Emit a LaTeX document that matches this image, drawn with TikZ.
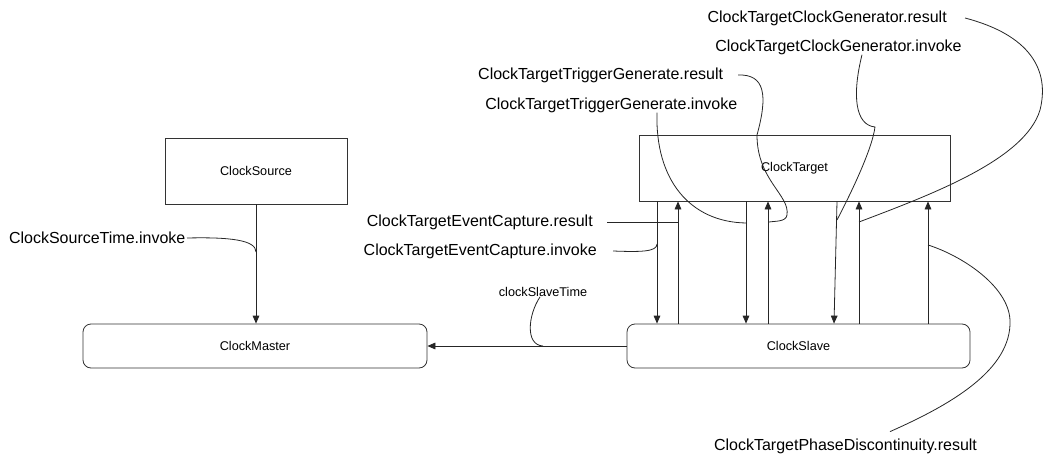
\documentclass[tikz,border=0pt]{standalone}
\usepackage{fontspec}
\setmainfont{Liberation Sans}
\usetikzlibrary{arrows.meta}
\tikzset{
  block/.style={draw=black!80, line width=0.6pt, font=\fontsize{9.5}{11}\selectfont},
  rblock/.style={block, rounded corners=6pt},
  lbl/.style={inner sep=0pt, font=\fontsize{12}{14}\selectfont},
  wire/.style={draw=black!85, line width=0.6pt},
}
\begin{document}
\begin{tikzpicture}[x=0.75pt,y=-0.75pt,>={Triangle[length=6pt,width=5pt]}]
\useasboundingbox (0,0) rectangle (1045,453);
% blocks
\node[block, minimum width=136.5pt, minimum height=49.5pt] (src) at (256,171) {ClockSource};
\node[rblock, minimum width=258pt, minimum height=33pt] (mst) at (255,346) {ClockMaster};
\node[block, minimum width=233.25pt, minimum height=49.5pt] (tgt) at (794.5,168) {ClockTarget};
\node[rblock, minimum width=257.25pt, minimum height=33pt] (slv) at (798.5,346) {ClockSlave};
% labels
\node[lbl, anchor=east, inner xsep=1pt] (cstInv) at (187,238) {ClockSourceTime.invoke};
\node[lbl, anchor=east, inner xsep=10.5pt] (ecRes) at (607,222) {ClockTargetEventCapture.result};
\node[lbl, anchor=east, inner xsep=12pt] (ecInv) at (613,251) {ClockTargetEventCapture.invoke};
\node[lbl, font=\fontsize{9.5}{11}\selectfont] (slvTime) at (543,292) {clockSlaveTime};
\node[lbl, anchor=east, inner xsep=11pt] (tgRes) at (738,75) {ClockTargetTriggerGenerate.result};
\node[lbl, anchor=west] (tgInv) at (485,105) {ClockTargetTriggerGenerate.invoke};
\node[lbl, anchor=east, inner xsep=13.5pt] (cgRes) at (965,18) {ClockTargetClockGenerator.result};
\node[lbl, anchor=west] (cgInv) at (715,47) {ClockTargetClockGenerator.invoke};
\node[lbl, inner ysep=5pt] (pdRes) at (845.5,446) {ClockTargetPhaseDiscontinuity.result};
% points on the wires
\coordinate (cstHit) at (256,252);
\coordinate (ecrHit) at (678,222);
\coordinate (eciHit) at (657,244);
\coordinate (stHit) at (543,346);
\coordinate (tgrHit) at (769,222);
\coordinate (tgiHit) at (746,223);
\coordinate (cgiHit) at (837,220);
\coordinate (cgrHit) at (859,222);
\coordinate (pdHit) at (928,245);
% arrows
\path[wire,->] (src.south) -- (src.south |- mst.north);
\path[wire,->] (slv.west) -- (mst.east);
\path[wire,->] (657,0 |- tgt.south) -- (657,0 |- slv.north);
\path[wire,->] (678,0 |- slv.north) -- (678,0 |- tgt.south);
\path[wire,->] (746,0 |- tgt.south) -- (746,0 |- slv.north);
\path[wire,->] (768,0 |- slv.north) -- (768,0 |- tgt.south);
\path[wire,->] (837,0 |- tgt.south) -- (834,0 |- slv.north);
\path[wire,->] (859,0 |- slv.north) -- (859,0 |- tgt.south);
\path[wire,->] (928,0 |- slv.north) -- (928,0 |- tgt.south);
% label lines
\path[wire] (cstInv.east) .. controls (230,237) and (256,240) .. (cstHit);
\path[wire] (ecRes.east) -- (ecrHit);
\path[wire] (ecInv.east) .. controls (640,252) and (657,252) .. (eciHit);
\path[wire] (540,0 |- slvTime.south) .. controls (528,315) and (525,345) .. (stHit);
\path[wire] (tgRes.east) .. controls (765,74) and (768,95) .. (757,135)
  .. controls (757,180) and (790,195) .. (787,215)
  .. controls (786,222) and (775,221) .. (tgrHit);
\path[wire] (657,0 |- tgInv.south) .. controls (655,180) and (690,222) .. (tgiHit);
\path[wire] (862,0 |- cgInv.south) .. controls (852,95) and (855,125) .. (875,127)
  .. controls (872,150) and (850,195) .. (cgiHit);
\path[wire] (cgRes.east) .. controls (1030,35) and (1050,70) .. (1040,110)
  .. controls (1025,160) and (930,195) .. (cgrHit);
\path[wire] (890,0 |- pdRes.north) .. controls (950,405) and (1012,370) .. (1010,320)
  .. controls (1008,285) and (960,255) .. (pdHit);
\end{tikzpicture}
\end{document}
